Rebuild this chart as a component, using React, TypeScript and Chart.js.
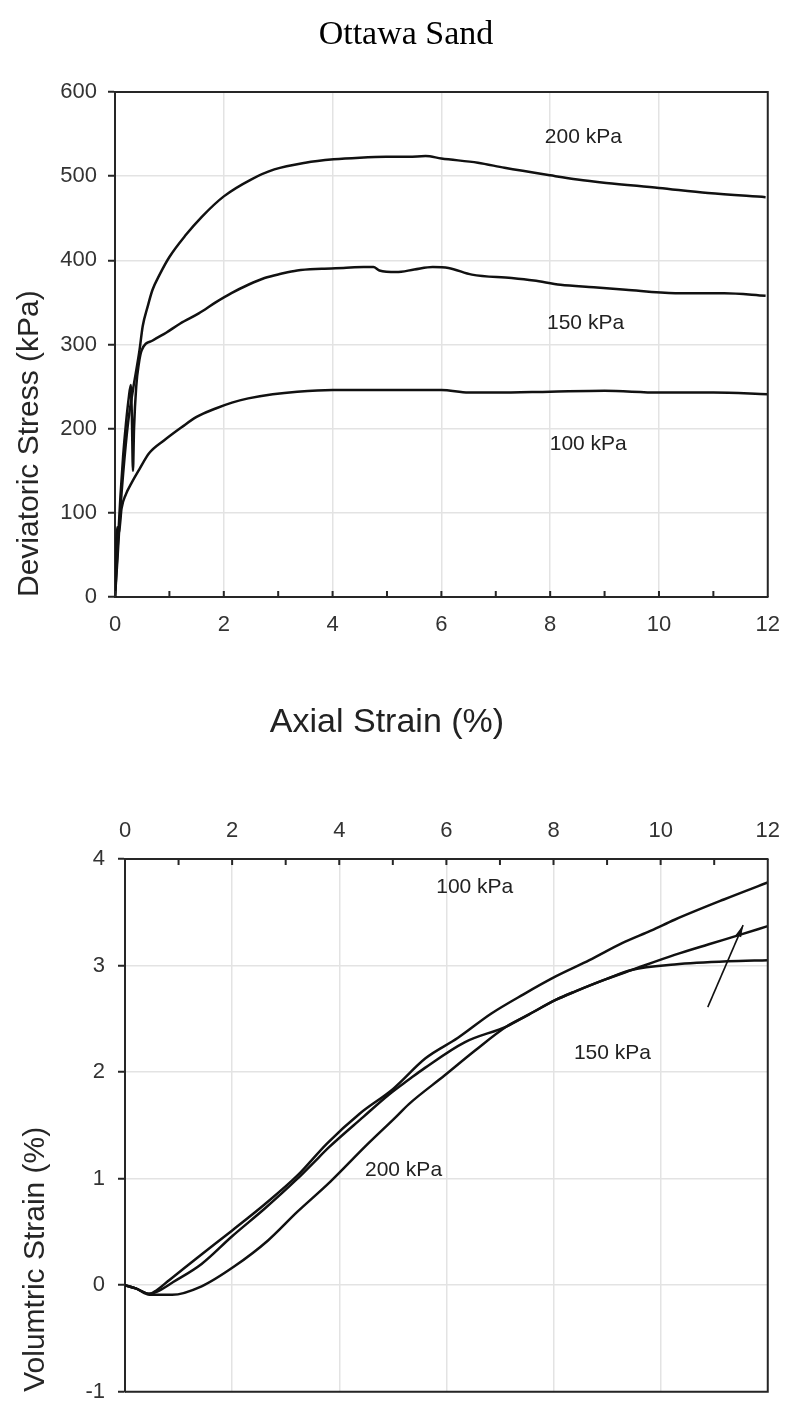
import React, { useEffect, useRef } from "react";
import { Chart, registerables } from "chart.js";

Chart.register(...registerables);

// ---------------- Top chart: deviatoric stress vs axial strain ----------------
const STRAIN_200 = [0, 0.05, 0.1, 0.15, 0.24, 0.33, 0.45, 0.51, 0.6, 0.69, 0.82, 1.0, 1.3, 1.6, 2.0, 2.5, 2.93, 3.5, 4.02, 4.5, 4.98, 5.4, 5.71, 6.0, 6.67, 7.16, 8.0, 8.5, 9.03, 10.0, 10.9, 11.96];
const STRESS_200 = [0, 50, 105, 147, 207, 246, 293, 322, 345, 365, 383, 404, 430, 452, 476, 496, 508, 516, 520, 522, 523, 523, 524, 521, 516, 510, 501, 496, 492, 486, 480, 475];

const STRAIN_150 = [0, 0.05, 0.1, 0.15, 0.2, 0.25, 0.29, 0.31, 0.33, 0.35, 0.39, 0.44, 0.49, 0.7, 0.94, 1.2, 1.54, 1.85, 2.14, 2.45, 2.75, 3.05, 3.35, 3.8, 4.2, 4.57, 4.75, 4.86, 5.17, 5.5, 5.84, 6.13, 6.56, 7.29, 7.7, 8.19, 8.8, 9.39, 10.3, 11.2, 11.96];
const STRESS_150 = [0, 60, 120, 168, 205, 235, 252, 215, 150, 200, 250, 278, 293, 305, 314, 325, 337, 350, 361, 371, 379, 384, 388, 390, 391, 392, 392, 388, 386, 389, 392, 391, 383, 379, 376, 371, 368, 365, 361, 361, 358];

const STRAIN_100 = [0, 0.02, 0.04, 0.07, 0.12, 0.2, 0.3, 0.45, 0.63, 0.9, 1.23, 1.5, 1.85, 2.15, 2.45, 2.9, 3.35, 4.0, 5.0, 6.0, 6.5, 7.0, 8.0, 9.0, 10.0, 11.0, 12.0];
const STRESS_100 = [0, 60, 83, 75, 105, 122, 135, 152, 171, 186, 202, 214, 224, 231, 236, 241, 244, 246, 246, 246, 243, 243, 244, 245, 243, 243, 241];

const TOP_LABELS = ["200 kPa", "150 kPa", "100 kPa"];
const TOP_LABEL_X = [8.61, 8.65, 8.7];
const TOP_LABEL_Y = [546, 325, 182];

// ---------------- Bottom chart: volumetric strain vs axial strain ----------------
const VOL_X_100 = [0, 0.2, 0.46, 0.55, 0.83, 1.38, 1.99, 2.61, 3.22, 3.77, 4.38, 5.0, 5.61, 6.21, 6.84, 7.44, 8.05, 8.67, 9.28, 9.83, 10.26, 11.18, 12.0];
const VOL_Y_100 = [0, -0.03, -0.08, -0.06, 0.05, 0.27, 0.51, 0.76, 1.03, 1.33, 1.61, 1.84, 2.13, 2.32, 2.55, 2.73, 2.9, 3.05, 3.21, 3.33, 3.43, 3.62, 3.78];

const VOL_X_150 = [0, 0.2, 0.46, 0.6, 0.9, 1.43, 2.0, 2.61, 3.22, 3.5, 3.82, 4.45, 4.93, 5.3, 5.6, 6.34, 7.13, 7.5, 8.05, 8.42, 8.97, 9.47, 10.26, 10.9, 11.49, 12.0];
const VOL_Y_150 = [0, -0.03, -0.08, -0.06, 0.03, 0.2, 0.46, 0.72, 1.0, 1.14, 1.3, 1.58, 1.79, 1.93, 2.04, 2.28, 2.43, 2.53, 2.68, 2.76, 2.87, 2.96, 3.1, 3.2, 3.29, 3.37];

const VOL_X_200 = [0, 0.2, 0.46, 0.88, 1.43, 2.05, 2.67, 3.22, 3.83, 4.5, 5.06, 5.3, 5.97, 6.53, 7.13, 7.5, 8.05, 8.42, 8.97, 9.47, 10.26, 11.25, 12.0];
const VOL_Y_200 = [0, -0.03, -0.09, -0.09, -0.01, 0.18, 0.42, 0.69, 0.97, 1.31, 1.58, 1.7, 1.97, 2.2, 2.43, 2.53, 2.68, 2.76, 2.87, 2.96, 3.01, 3.04, 3.05];

const BOTTOM_LABELS = ["100 kPa", "150 kPa", "200 kPa"];
const BOTTOM_LABEL_X = [6.53, 9.1, 5.2];
const BOTTOM_LABEL_Y = [3.74, 2.18, 1.08];

const ARROW_FROM = [10.88, 2.61];
const ARROW_TO = [11.54, 3.38];

// ---------------- Axes ----------------
const X_MIN = 0;
const X_MAX = 12;
const STRESS_MIN = 0;
const STRESS_MAX = 600;
const VOL_MIN = -1;
const VOL_MAX = 4;

const TITLE = "Ottawa Sand";
const X_TITLE = "Axial Strain (%)";
const X_TITLE_AT = 5; // strain value under which the x title is centred
const Y_TITLE_TOP = "Deviatoric Stress (kPa)";
const Y_TITLE_BOTTOM = "Volumtric Strain (%)";

// ---------------- Styles ----------------
const SANS = "'Liberation Sans', Arial, Helvetica, sans-serif";
const SERIF = "'Liberation Serif', 'Times New Roman', serif";
const INK = "#111111";
const AXIS = "#262626";
const GRID = "#e3e3e3";
const TICK_TEXT = "#333333";

function pts(xs: number[], ys: number[]) {
  return xs.map((x, i) => ({ x, y: ys[i] }));
}

function lineDs(label: string, xs: number[], ys: number[]) {
  return {
    label,
    data: pts(xs, ys),
    borderColor: INK,
    borderWidth: 2.5,
    pointRadius: 0,
    fill: false,
    cubicInterpolationMode: "monotone" as const,
  };
}

const evenGrid = (c: any) =>
  c.tick && Math.round(c.tick.value) % 2 === 0 ? GRID : "rgba(0,0,0,0)";
const evenLabel = (v: any) => (Math.round(Number(v)) % 2 === 0 ? String(v) : "");

const topDecor = {
  id: "topDecor",
  afterDatasetsDraw(chart: any) {
    const { ctx, chartArea: a, scales } = chart;
    const xs = scales.x;
    const ys = scales.y;
    ctx.save();
    ctx.strokeStyle = AXIS;
    ctx.lineWidth = 2;
    ctx.beginPath();
    ctx.moveTo(a.left, a.top);
    ctx.lineTo(a.right, a.top);
    ctx.lineTo(a.right, a.bottom);
    for (let v = X_MIN; v <= X_MAX; v++) {
      const px = xs.getPixelForValue(v);
      ctx.moveTo(px, a.bottom);
      ctx.lineTo(px, a.bottom - 6);
    }
    ctx.stroke();

    ctx.fillStyle = "#222222";
    ctx.textAlign = "center";
    ctx.textBaseline = "middle";
    ctx.font = `21px ${SANS}`;
    TOP_LABELS.forEach((t, i) => {
      ctx.fillText(t, xs.getPixelForValue(TOP_LABEL_X[i]), ys.getPixelForValue(TOP_LABEL_Y[i]));
    });
    ctx.font = `34px ${SANS}`;
    ctx.fillText(X_TITLE, xs.getPixelForValue(X_TITLE_AT), a.bottom + 126);
    ctx.restore();
  },
};

const bottomDecor = {
  id: "bottomDecor",
  afterDatasetsDraw(chart: any) {
    const { ctx, chartArea: a, scales } = chart;
    const xs = scales.x;
    const ys = scales.y;
    ctx.save();
    ctx.strokeStyle = AXIS;
    ctx.lineWidth = 2;
    ctx.beginPath();
    ctx.moveTo(a.right, a.top);
    ctx.lineTo(a.right, a.bottom);
    ctx.lineTo(a.left, a.bottom);
    for (let v = X_MIN; v <= X_MAX; v++) {
      const px = xs.getPixelForValue(v);
      ctx.moveTo(px, a.top);
      ctx.lineTo(px, a.top + 6);
    }
    ctx.stroke();

    // arrow
    const x1 = xs.getPixelForValue(ARROW_FROM[0]);
    const y1 = ys.getPixelForValue(ARROW_FROM[1]);
    const x2 = xs.getPixelForValue(ARROW_TO[0]);
    const y2 = ys.getPixelForValue(ARROW_TO[1]);
    ctx.strokeStyle = INK;
    ctx.lineWidth = 1.6;
    ctx.beginPath();
    ctx.moveTo(x1, y1);
    ctx.lineTo(x2, y2);
    ctx.stroke();
    const ang = Math.atan2(y2 - y1, x2 - x1);
    const hl = 12;
    const hw = 3;
    const bx = x2 - hl * Math.cos(ang);
    const by = y2 - hl * Math.sin(ang);
    ctx.fillStyle = INK;
    ctx.beginPath();
    ctx.moveTo(x2, y2);
    ctx.lineTo(bx + hw * Math.sin(ang), by - hw * Math.cos(ang));
    ctx.lineTo(bx - hw * Math.sin(ang), by + hw * Math.cos(ang));
    ctx.closePath();
    ctx.fill();

    ctx.fillStyle = "#222222";
    ctx.textAlign = "center";
    ctx.textBaseline = "middle";
    ctx.font = `21px ${SANS}`;
    BOTTOM_LABELS.forEach((t, i) => {
      ctx.fillText(t, xs.getPixelForValue(BOTTOM_LABEL_X[i]), ys.getPixelForValue(BOTTOM_LABEL_Y[i]));
    });
    ctx.restore();
  },
};

function topConfig(): any {
  return {
    type: "line",
    data: {
      datasets: [
        lineDs("200 kPa", STRAIN_200, STRESS_200),
        lineDs("150 kPa", STRAIN_150, STRESS_150),
        lineDs("100 kPa", STRAIN_100, STRESS_100),
      ],
    },
    options: {
      animation: false,
      responsive: false,
      events: [],
      layout: { padding: { left: 35, right: 18, top: 0, bottom: 0 } },
      plugins: {
        legend: { display: false },
        tooltip: { enabled: false },
        title: {
          display: true,
          text: TITLE,
          color: "#000000",
          font: { family: SERIF, size: 34, weight: "normal", lineHeight: 1.2 },
          padding: { top: 15, bottom: 36.2 },
        },
      },
      scales: {
        x: {
          type: "linear",
          min: X_MIN,
          max: X_MAX,
          afterFit: (s: any) => {
            s.height = 151;
          },
          ticks: {
            stepSize: 1,
            autoSkip: false,
            maxRotation: 0,
            padding: 15,
            color: TICK_TEXT,
            font: { family: SANS, size: 22 },
            callback: evenLabel,
          },
          grid: { color: evenGrid, lineWidth: 1.5, drawTicks: false },
          border: { display: true, color: AXIS, width: 2 },
        },
        y: {
          type: "linear",
          min: STRESS_MIN,
          max: STRESS_MAX,
          afterFit: (s: any) => {
            s.width = 80;
          },
          ticks: {
            stepSize: 100,
            padding: 11,
            color: TICK_TEXT,
            font: { family: SANS, size: 22 },
          },
          grid: {
            color: GRID,
            lineWidth: 1.5,
            drawTicks: true,
            tickLength: 7,
            tickColor: AXIS,
            tickWidth: 2,
          },
          border: { display: true, color: AXIS, width: 2 },
          title: {
            display: true,
            text: Y_TITLE_TOP,
            align: "start",
            color: AXIS,
            font: { family: SANS, size: 30, lineHeight: 1.2 },
            padding: { top: -23, bottom: 0 },
          },
        },
      },
    },
    plugins: [topDecor],
  };
}

function bottomConfig(): any {
  return {
    type: "line",
    data: {
      datasets: [
        lineDs("100 kPa", VOL_X_100, VOL_Y_100),
        lineDs("150 kPa", VOL_X_150, VOL_Y_150),
        lineDs("200 kPa", VOL_X_200, VOL_Y_200),
      ],
    },
    options: {
      animation: false,
      responsive: false,
      events: [],
      layout: { padding: { left: 0, right: 17, top: 0, bottom: 12 } },
      plugins: {
        legend: { display: false },
        tooltip: { enabled: false },
      },
      scales: {
        x: {
          type: "linear",
          position: "top",
          min: X_MIN,
          max: X_MAX,
          afterFit: (s: any) => {
            s.height = 111;
          },
          ticks: {
            stepSize: 1,
            autoSkip: false,
            maxRotation: 0,
            padding: 15,
            color: TICK_TEXT,
            font: { family: SANS, size: 22 },
            callback: evenLabel,
          },
          grid: { color: evenGrid, lineWidth: 1.5, drawTicks: false },
          border: { display: true, color: AXIS, width: 2 },
        },
        y: {
          type: "linear",
          min: VOL_MIN,
          max: VOL_MAX,
          afterFit: (s: any) => {
            s.width = 125;
          },
          ticks: {
            stepSize: 1,
            padding: 13,
            color: TICK_TEXT,
            font: { family: SANS, size: 22 },
          },
          grid: {
            color: GRID,
            lineWidth: 1.5,
            drawTicks: true,
            tickLength: 7,
            tickColor: AXIS,
            tickWidth: 2,
          },
          border: { display: true, color: AXIS, width: 2 },
          title: {
            display: true,
            text: Y_TITLE_BOTTOM,
            align: "start",
            color: AXIS,
            font: { family: SANS, size: 30, lineHeight: 1.2 },
            padding: { top: 18, bottom: 0 },
          },
        },
      },
    },
    plugins: [bottomDecor],
  };
}

function ChartCanvas(props: { make: () => any; top: number; height: number }) {
  const ref = useRef<HTMLCanvasElement | null>(null);
  useEffect(() => {
    if (!ref.current) return;
    const chart = new Chart(ref.current, props.make());
    return () => chart.destroy();
  }, []);
  return (
    <canvas
      ref={ref}
      width={795}
      height={props.height}
      style={{ position: "absolute", left: 0, top: props.top, width: 795, height: props.height, display: "block" }}
    />
  );
}

export default function App() {
  return (
    <div
      style={{
        position: "absolute",
        left: 0,
        top: 0,
        width: 795,
        height: 1418,
        background: "#ffffff",
        overflow: "hidden",
      }}
    >
      <ChartCanvas make={topConfig} top={0} height={748} />
      <ChartCanvas make={bottomConfig} top={748} height={670} />
    </div>
  );
}
